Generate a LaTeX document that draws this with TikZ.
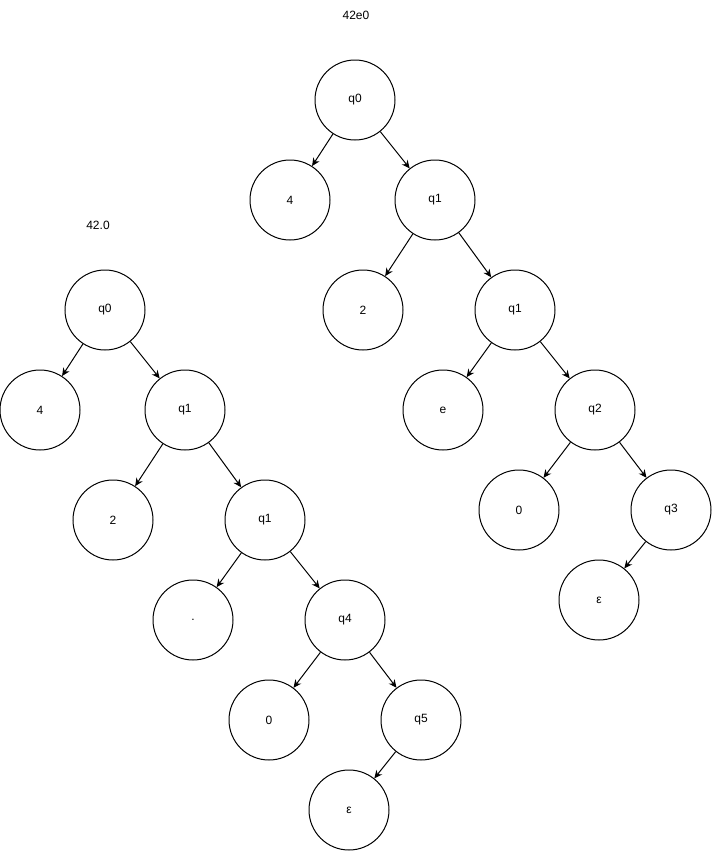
\documentclass[tikz,border=0pt]{standalone}
\usepackage{fontspec}
\setmainfont{Liberation Sans}
\usetikzlibrary{arrows.meta}
\begin{document}
\begin{tikzpicture}[x=0.75pt,y=-0.75pt,
  st/.style={circle,draw,line width=0.75pt,minimum size=60pt,inner sep=0pt,font=\fontsize{9}{11}\selectfont},
  lbl/.style={font=\fontsize{9}{11}\selectfont},
  edge/.style={draw,line width=0.75pt,-{Stealth[length=6pt,width=5.5pt]}}]
\useasboundingbox (0,0) rectangle (713,851);
% tree 42e0
\node[lbl] (t1) at (356,15) {42e0};
\node[st] (a0) at (355,100) {q0};
\node[st] (a4) at (290,200) {4};
\node[st] (a1) at (435,200) {q1};
\node[st] (a2) at (363,310) {2};
\node[st] (a1b) at (515,310) {q1};
\node[st] (ae) at (443,410) {e};
\node[st] (aq2) at (595,410) {q2};
\node[st] (a00) at (519,510) {0};
\node[st] (aq3) at (671,510) {q3};
\node[st] (aeps) at (599,600) {ε};
\draw[edge] (a0) -- (a4);
\draw[edge] (a0) -- (a1);
\draw[edge] (a1) -- (a2);
\draw[edge] (a1) -- (a1b);
\draw[edge] (a1b) -- (ae);
\draw[edge] (a1b) -- (aq2);
\draw[edge] (aq2) -- (a00);
\draw[edge] (aq2) -- (aq3);
\draw[edge] (aq3) -- (aeps);
% tree 42.0
\node[lbl] (t2) at (98,225) {42.0};
\node[st] (b0) at (105,310) {q0};
\node[st] (b4) at (40,410) {4};
\node[st] (b1) at (185,410) {q1};
\node[st] (b2) at (113,520) {2};
\node[st] (b1b) at (265,520) {q1};
\node[st] (bdot) at (193,620) {.};
\node[st] (bq4) at (345,620) {q4};
\node[st] (b00) at (269,720) {0};
\node[st] (bq5) at (421,720) {q5};
\node[st] (beps) at (349,810) {ε};
\draw[edge] (b0) -- (b4);
\draw[edge] (b0) -- (b1);
\draw[edge] (b1) -- (b2);
\draw[edge] (b1) -- (b1b);
\draw[edge] (b1b) -- (bdot);
\draw[edge] (b1b) -- (bq4);
\draw[edge] (bq4) -- (b00);
\draw[edge] (bq4) -- (bq5);
\draw[edge] (bq5) -- (beps);
\end{tikzpicture}
\end{document}
